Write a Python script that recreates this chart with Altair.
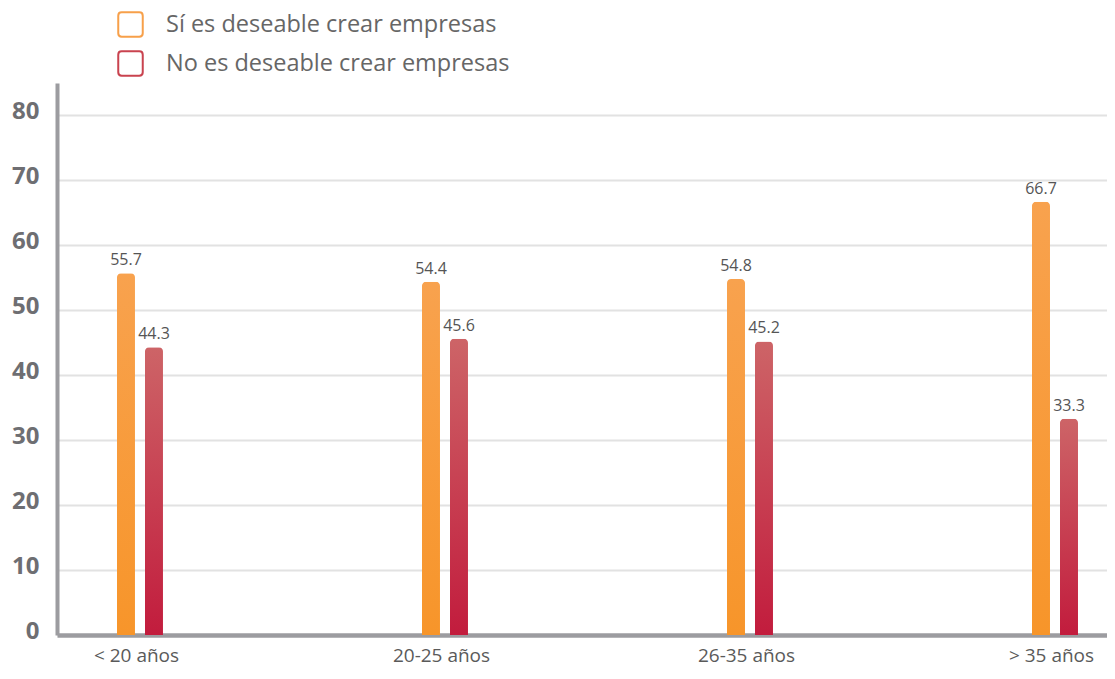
import altair as alt
import pandas as pd

categories = ["< 20 años", "20-25 años", "26-35 años", "> 35 años"]
series = ["Sí es deseable crear empresas", "No es deseable crear empresas"]
si_values = [55.7, 54.4, 54.8, 66.7]
no_values = [44.3, 45.6, 45.2, 33.3]

rows = []
for i, c in enumerate(categories):
    rows.append({"idx": i, "cat": c, "serie": series[0], "valor": si_values[i]})
    rows.append({"idx": i, "cat": c, "serie": series[1], "valor": no_values[i]})
df = pd.DataFrame(rows)

FONT = "Open Sans"
label_expr = "[" + ",".join("'" + c + "'" for c in categories) + "][datum.value]"

# plot spans page x 57..1107 (1050 px); group step 305 px, first center at 140
x_enc = alt.X("idx:Q",
              scale=alt.Scale(domain=[-0.2721, 3.1705], nice=False, zero=False, padding=0),
              axis=alt.Axis(values=[0, 1, 2, 3], labelExpr=label_expr, title=None,
                            grid=False, ticks=False, domainColor="#9c9ca0",
                            domainWidth=4.5, labelFont=FONT, labelFontSize=19,
                            labelColor="#5a5a5a", labelPadding=11, labelOffset=-4))
y_enc = alt.Y("valor:Q",
              scale=alt.Scale(domain=[0, 85], nice=False, padding=0),
              axis=alt.Axis(values=[0, 10, 20, 30, 40, 50, 60, 70, 80], title=None,
                            ticks=False, domainColor="#9c9ca0", domainWidth=4,
                            gridColor="#e2e2e2", gridWidth=2.2,
                            labelFont="Noto Sans", labelFontWeight="bold",
                            labelFontSize=24, labelColor="#6e6e72", labelPadding=18,
                            labelBaseline="middle", labelOffset=-4))

orange_grad = alt.Gradient(gradient="linear", x1=0, y1=0, x2=0, y2=1,
                           stops=[alt.GradientStop(color="#f8a24e", offset=0),
                                  alt.GradientStop(color="#f7952a", offset=1)])
red_grad = alt.Gradient(gradient="linear", x1=0, y1=0, x2=0, y2=1,
                        stops=[alt.GradientStop(color="#cd6467", offset=0),
                               alt.GradientStop(color="#c21c3d", offset=1)])

base = alt.Chart(df)

bars_si = base.transform_filter(alt.datum.serie == series[0]).mark_bar(
    width=18, xOffset=-14, color=orange_grad,
    cornerRadiusTopLeft=4, cornerRadiusTopRight=4).encode(x=x_enc, y=y_enc)
bars_no = base.transform_filter(alt.datum.serie == series[1]).mark_bar(
    width=18, xOffset=14, color=red_grad,
    cornerRadiusTopLeft=4, cornerRadiusTopRight=4).encode(x=x_enc, y=y_enc)

txt_si = base.transform_filter(alt.datum.serie == series[0]).mark_text(
    xOffset=-14, dy=-13, font=FONT, fontSize=16, color="#555555").encode(
    x=x_enc, y=y_enc, text=alt.Text("valor:Q", format=".1f"))
txt_no = base.transform_filter(alt.datum.serie == series[1]).mark_text(
    xOffset=14, dy=-13, font=FONT, fontSize=16, color="#555555").encode(
    x=x_enc, y=y_enc, text=alt.Text("valor:Q", format=".1f"))

rounded_sq = ("M-0.72,-1 L0.72,-1 Q1,-1 1,-0.72 L1,0.72 Q1,1 0.72,1 "
              "L-0.72,1 Q-1,1 -1,0.72 L-1,-0.72 Q-1,-1 -0.72,-1 Z")

legend_layer = base.mark_point(opacity=0).encode(
    x=x_enc, y=y_enc,
    stroke=alt.Stroke("serie:N", sort=series,
                      scale=alt.Scale(domain=series, range=["#f7a04a", "#c9434f"]),
                      legend=alt.Legend(title=None, orient="none", legendX=60, legendY=-72,
                                        symbolType=rounded_sq, symbolSize=600,
                                        symbolStrokeWidth=2, symbolOpacity=1,
                                        symbolFillColor="white",
                                        labelFont=FONT, labelFontSize=23.5,
                                        labelColor="#666666", labelOffset=22,
                                        rowPadding=6, padding=0,
                                        labelLimit=600)))

chart = alt.layer(legend_layer, bars_si, bars_no, txt_si, txt_no).properties(
    width=1050, height=552,
    autosize=alt.AutoSizeParams(type="none"),
    padding={"left": 49, "top": 75, "right": 0, "bottom": 31},
).configure(background="white").configure_view(stroke=None)

chart.save("out.html", embed_options={"renderer": "svg", "actions": False})
